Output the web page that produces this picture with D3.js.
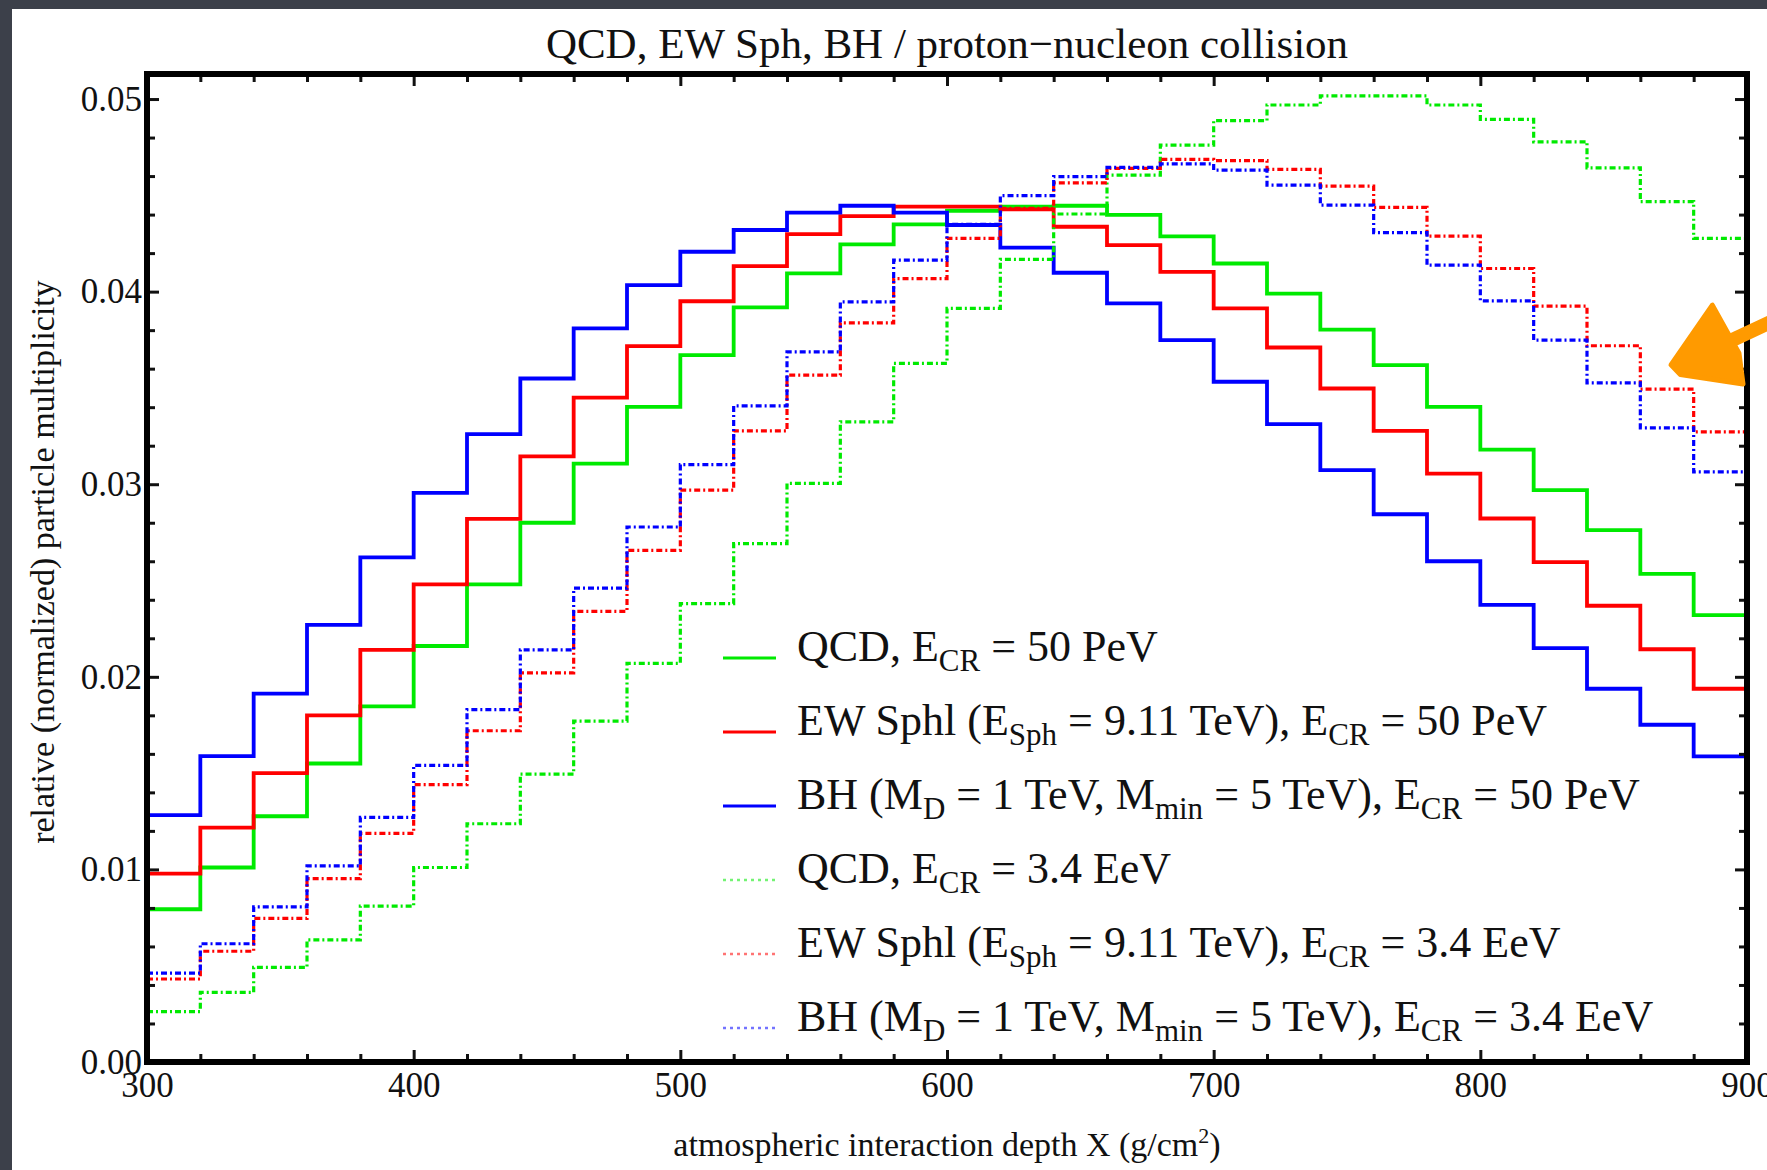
<!DOCTYPE html>
<html>
<head>
<meta charset="utf-8">
<script src="https://cdnjs.cloudflare.com/ajax/libs/d3/7.8.5/d3.min.js"></script>
<style>
body { margin: 0; background: #3c404a; }
svg { display: block; }
text { font-family: "Liberation Serif", "Times New Roman", serif; fill: #111; }
</style>
</head>
<body>
<div id="container"></div>
<script>
// bin edges of the histograms (g/cm^2)
var binEdges = [300, 320, 340, 360, 380, 400, 420, 440, 460, 480, 500, 520, 540, 560, 580,
  600, 620, 640, 660, 680, 700, 720, 740, 760, 780, 800, 820, 840, 860, 880, 900];

// values, one per bin
var qcd50PeV = [0.00793, 0.0101, 0.01276, 0.0155, 0.01847, 0.0216, 0.0248, 0.0280, 0.03107, 0.03402,
  0.0367, 0.03918, 0.04095, 0.04245, 0.04349, 0.0442, 0.04441, 0.04446, 0.04399, 0.04287,
  0.04146, 0.0399, 0.03803, 0.03618, 0.03402, 0.0318, 0.02969, 0.02762, 0.02535, 0.0232];
var sph50PeV = [0.00978, 0.01217, 0.0150, 0.0180, 0.0214, 0.0248, 0.0282, 0.03145, 0.0345, 0.03717,
  0.0395, 0.04132, 0.04299, 0.04392, 0.04441, 0.04441, 0.04427, 0.04337, 0.04241, 0.04103,
  0.03913, 0.0371, 0.03497, 0.03277, 0.03055, 0.02822, 0.02595, 0.02369, 0.02143, 0.01938];
var bh50PeV = [0.01282, 0.01588, 0.01913, 0.0227, 0.0262, 0.02955, 0.0326, 0.03549, 0.03809, 0.04034,
  0.04207, 0.0432, 0.0441, 0.04446, 0.0441, 0.04346, 0.04228, 0.04098, 0.03939, 0.03748,
  0.03532, 0.03312, 0.03073, 0.02844, 0.0260, 0.02374, 0.02149, 0.01938, 0.01751, 0.01587];
var qcd34EeV = [0.00262, 0.00362, 0.00491, 0.00634, 0.00809, 0.0101, 0.01237, 0.01495, 0.0177, 0.0207,
  0.0238, 0.02692, 0.03004, 0.03324, 0.03627, 0.03913, 0.04167, 0.04403, 0.04605, 0.04761,
  0.04888, 0.04969, 0.05016, 0.05016, 0.04969, 0.04894, 0.04778, 0.04643, 0.04467, 0.04276];
var sph34EeV = [0.00431, 0.00575, 0.00746, 0.00952, 0.01187, 0.0144, 0.0172, 0.0202, 0.0234, 0.02657,
  0.02969, 0.03277, 0.03566, 0.03838, 0.04068, 0.04276, 0.04432, 0.04565, 0.0464, 0.04687,
  0.0468, 0.04635, 0.04548, 0.04437, 0.04288, 0.0412, 0.03925, 0.03719, 0.03494, 0.03272];
var bh34EeV = [0.00461, 0.00614, 0.00805, 0.01018, 0.0127, 0.0154, 0.0183, 0.0214, 0.0246, 0.02778,
  0.03102, 0.03407, 0.03687, 0.03947, 0.04164, 0.04349, 0.04498, 0.04597, 0.04645, 0.04663,
  0.04631, 0.04553, 0.04449, 0.04306, 0.04138, 0.03952, 0.03748, 0.03526, 0.03293, 0.03064];

var xTicks = [300, 400, 500, 600, 700, 800, 900];
var xMinor = [320, 340, 360, 380, 420, 440, 460, 480, 520, 540, 560, 580, 620, 640, 660, 680,
  720, 740, 760, 780, 820, 840, 860, 880];
var yTicks = [0, 0.01, 0.02, 0.03, 0.04, 0.05];
var yMinor = [0.002, 0.004, 0.006, 0.008, 0.012, 0.014, 0.016, 0.018, 0.022, 0.024, 0.026, 0.028,
  0.032, 0.034, 0.036, 0.038, 0.042, 0.044, 0.046, 0.048];

var series = [
  { values: qcd50PeV, color: "#00ea00", dotted: false },
  { values: sph50PeV, color: "#ff0000", dotted: false },
  { values: bh50PeV, color: "#0000ff", dotted: false },
  { values: qcd34EeV, color: "#00ea00", dotted: true },
  { values: sph34EeV, color: "#ff0000", dotted: true },
  { values: bh34EeV, color: "#0000ff", dotted: true }
];

// legend text, pieces marked 1 are subscripts
var legendLabels = [
  [["QCD, E"], ["CR", 1], [" = 50 PeV"]],
  [["EW Sphl (E"], ["Sph", 1], [" = 9.11 TeV), E"], ["CR", 1], [" = 50 PeV"]],
  [["BH (M"], ["D", 1], [" = 1 TeV, M"], ["min", 1], [" = 5 TeV), E"], ["CR", 1], [" = 50 PeV"]],
  [["QCD, E"], ["CR", 1], [" = 3.4 EeV"]],
  [["EW Sphl (E"], ["Sph", 1], [" = 9.11 TeV), E"], ["CR", 1], [" = 3.4 EeV"]],
  [["BH (M"], ["D", 1], [" = 1 TeV, M"], ["min", 1], [" = 5 TeV), E"], ["CR", 1], [" = 3.4 EeV"]]
];

var width = 1767, height = 1170;
var plotL = 147, plotR = 1747, plotT = 74, plotB = 1062;

var svg = d3.select("#container")
  .append("svg")
  .attr("width", width)
  .attr("height", height);

// slide background and white sheet
svg.append("rect").attr("width", width).attr("height", height).attr("fill", "#3c404a");
svg.append("rect")
  .attr("x", 12).attr("y", 9)
  .attr("width", width - 12).attr("height", height - 9)
  .attr("fill", "#ffffff");

var x = d3.scaleLinear().domain([300, 900]).range([plotL, plotR]);
var y = d3.scaleLinear().domain([0, 0.0513]).range([plotB, plotT]);

svg.append("clipPath").attr("id", "plot")
  .append("rect")
  .attr("x", plotL).attr("y", plotT)
  .attr("width", plotR - plotL).attr("height", plotB - plotT);

var line = d3.line()
  .x(function(d) { return x(d[0]); })
  .y(function(d) { return y(d[1]); })
  .curve(d3.curveStepAfter);

var lines = svg.append("g").attr("clip-path", "url(#plot)");

series.forEach(function(s) {
  var pts = s.values.map(function(v, i) { return [binEdges[i], v]; });
  pts.push([binEdges[binEdges.length - 1], s.values[s.values.length - 1]]);
  lines.append("path")
    .attr("d", line(pts))
    .attr("fill", "none")
    .attr("stroke", s.color)
    .attr("stroke-width", s.dotted ? 3.2 : 3.8)
    .attr("stroke-dasharray", s.dotted ? "6,3,2,3" : null);
});

// axes, ticks pointing inwards on all four sides
function styleAxis(g, size) {
  g.select(".domain").remove();
  g.attr("font-family", "Liberation Serif, Times New Roman, serif")
    .attr("font-size", size)
    .attr("color", "#111");
  g.selectAll(".tick line").attr("stroke-width", 3);
}

var gx = svg.append("g")
  .attr("transform", "translate(0," + plotB + ")")
  .call(d3.axisBottom(x).tickValues(xTicks).tickSize(-12).tickPadding(10).tickFormat(d3.format("d")));
styleAxis(gx, 35);
var gxm = svg.append("g")
  .attr("transform", "translate(0," + plotB + ")")
  .call(d3.axisBottom(x).tickValues(xMinor).tickSize(-8).tickFormat(""));
styleAxis(gxm, 35);
var gt = svg.append("g")
  .attr("transform", "translate(0," + plotT + ")")
  .call(d3.axisTop(x).tickValues(xTicks).tickSize(-12).tickFormat(""));
styleAxis(gt, 35);
var gtm = svg.append("g")
  .attr("transform", "translate(0," + plotT + ")")
  .call(d3.axisTop(x).tickValues(xMinor).tickSize(-8).tickFormat(""));
styleAxis(gtm, 35);

var gy = svg.append("g")
  .attr("transform", "translate(" + plotL + ",0)")
  .call(d3.axisLeft(y).tickValues(yTicks).tickSize(-12).tickPadding(5).tickFormat(d3.format(".2f")));
styleAxis(gy, 35);
var gym = svg.append("g")
  .attr("transform", "translate(" + plotL + ",0)")
  .call(d3.axisLeft(y).tickValues(yMinor).tickSize(-8).tickFormat(""));
styleAxis(gym, 35);
var gr = svg.append("g")
  .attr("transform", "translate(" + plotR + ",0)")
  .call(d3.axisRight(y).tickValues(yTicks).tickSize(-12).tickFormat(""));
styleAxis(gr, 35);
var grm = svg.append("g")
  .attr("transform", "translate(" + plotR + ",0)")
  .call(d3.axisRight(y).tickValues(yMinor).tickSize(-8).tickFormat(""));
styleAxis(grm, 35);

// frame
svg.append("rect")
  .attr("x", plotL).attr("y", plotT)
  .attr("width", plotR - plotL).attr("height", plotB - plotT)
  .attr("fill", "none")
  .attr("stroke", "#000")
  .attr("stroke-width", 6);

// title and axis labels
svg.append("text")
  .attr("x", (plotL + plotR) / 2).attr("y", 58)
  .attr("text-anchor", "middle")
  .style("font-size", "43px")
  .text("QCD, EW Sph, BH / proton\u2212nucleon collision");

var xl = svg.append("text")
  .attr("x", (plotL + plotR) / 2).attr("y", 1156)
  .attr("text-anchor", "middle")
  .style("font-size", "34px");
xl.append("tspan").text("atmospheric interaction depth X (g/cm");
xl.append("tspan").attr("dy", -13).style("font-size", "22px").text("2");
xl.append("tspan").attr("dy", 13).text(")");

svg.append("text")
  .attr("transform", "translate(54,562) rotate(-90)")
  .attr("text-anchor", "middle")
  .style("font-size", "34px")
  .text("relative (normalized) particle multiplicity");

// legend
var legend = svg.append("g");
series.forEach(function(s, i) {
  var ly = 658 + 74 * i;
  legend.append("line")
    .attr("x1", 723).attr("x2", 776)
    .attr("y1", ly).attr("y2", ly)
    .attr("stroke", s.color)
    .attr("stroke-width", s.dotted ? 2.4 : 3)
    .attr("stroke-opacity", s.dotted ? 0.55 : 1)
    .attr("stroke-dasharray", s.dotted ? "3,4" : null);
  var t = legend.append("text")
    .attr("x", 797).attr("y", ly + 3)
    .style("font-size", "44px");
  var shifted = false;
  legendLabels[i].forEach(function(p) {
    var ts = t.append("tspan").text(p[0]);
    if (p[1]) {
      ts.attr("dy", shifted ? 0 : 10).style("font-size", "31px");
      shifted = true;
    } else {
      if (shifted) ts.attr("dy", -10);
      shifted = false;
    }
  });
});

// orange hand-drawn arrow on the right edge
var arrow = svg.append("g").attr("fill", "#ff9a00").attr("stroke", "#ff9a00");
arrow.append("path")
  .attr("d", "M" + x(890) + "," + y(0.0372) + "L" + x(910) + "," + y(0.0385))
  .attr("stroke-width", 14)
  .attr("stroke-linecap", "round")
  .attr("fill", "none");
arrow.append("path")
  .attr("d", "M" + x(887) + "," + y(0.0393) +
    "L" + x(871.5) + "," + y(0.0362) +
    "L" + x(875) + "," + y(0.0357) +
    "L" + x(898.5) + "," + y(0.0352) +
    "L" + x(897) + "," + y(0.0368) + "Z")
  .attr("stroke-width", 5)
  .attr("stroke-linejoin", "round");
</script>
</body>
</html>
